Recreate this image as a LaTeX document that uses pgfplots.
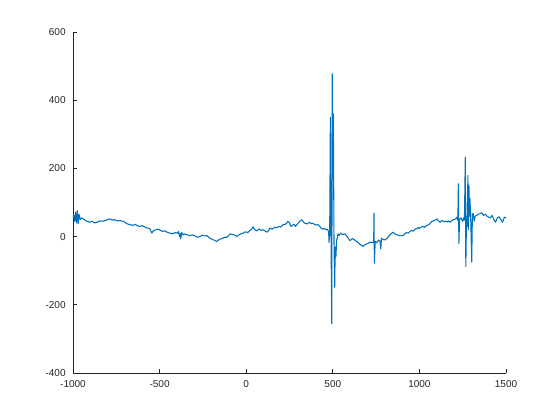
\documentclass[border=0pt]{standalone}
\usepackage{pgfplots}
\pgfplotsset{compat=1.18}
\usepackage{fontspec}
\setmainfont{Liberation Sans}
\definecolor{mblue}{rgb}{0,0.447,0.741}
\definecolor{axgray}{rgb}{0.15,0.15,0.15}
\begin{document}
\begin{tikzpicture}
\useasboundingbox (-54.75pt,-35.25pt) rectangle (365.25pt,279.75pt);
\begin{axis}[
    at={(0,0)}, anchor=south west,
    scale only axis,
    width=324.75pt, height=255.75pt,
    xmin=-1000, xmax=1500,
    ymin=-400, ymax=600,
    axis lines=left,
    axis line style={-, axgray, line width=0.5pt},
    tick style={axgray, line width=0.5pt},
    tick align=inside,
    major tick length=3pt,
    xtick={-1000,-500,...,1500},
    ytick={-400,-200,...,600},
    tick label style={font=\fontsize{7.5}{9}\selectfont, text=axgray},
    /pgf/number format/assume math mode=true,
    /pgf/number format/1000 sep={},
    xticklabel style={yshift=-2pt},
    yticklabel style={xshift=-2pt},
]
\addplot[mblue, line width=0.8pt, line join=round] coordinates {
(-1000,55) (-995,62) (-990,45) (-985,72) (-980,40) (-975,76) (-970,38) (-965,65)
(-958,50) (-950,55) (-942,52) (-930,48) (-920,45) (-902,42) (-890,45) (-875,40)
(-861,42) (-845,46) (-827,45) (-810,48) (-800,50) (-786,52) (-770,48) (-760,50)
(-746,46) (-730,47) (-711,45) (-700,42) (-690,38) (-671,35) (-655,33) (-640,36)
(-630,32) (-615,30) (-600,32) (-585,28) (-573,25) (-560,24) (-555,22) (-545,10)
(-535,18) (-520,20) (-509,22) (-495,18) (-480,15) (-470,17) (-457,13) (-440,10)
(-423,8) (-410,12) (-395,10) (-390,15) (-385,0) (-382,9) (-378,-6) (-372,12)
(-365,5) (-355,8) (-340,5) (-324,3) (-310,5) (-295,2) (-280,-2) (-267,0)
(-255,4) (-240,2) (-226,3) (-210,-5) (-195,-8) (-180,-12) (-169,-14) (-155,-8)
(-140,-6) (-125,-2) (-111,-2) (-100,4) (-94,8) (-76,6) (-65,4) (-53,0)
(-40,6) (-30,8) (-18,10) (-5,14) (10,12) (22,18) (32,22) (39,29)
(50,20) (62,17) (75,22) (85,18) (97,20) (110,16) (120,13) (130,18)
(137,25) (150,22) (165,28) (178,26) (190,30) (200,28) (212,35) (225,36)
(235,40) (241,45) (250,40) (258,30) (264,32) (275,36) (285,30) (293,35)
(305,42) (315,48) (322,49) (335,40) (351,37) (365,42) (375,38) (386,39)
(400,34) (415,35) (428,28) (438,22) (450,24) (460,20) (467,22) (472,18)
(476,15) (478,-17) (482,10) (486,350) (490,-20) (494,-255) (497,477) (500,170)
(503,360) (507,-20) (511,-149) (514,-30) (518,-60) (522,-10) (526,-5) (530,8)
(536,3) (545,10) (556,6) (570,8) (580,2) (590,-5) (599,-12) (608,-8)
(617,-6) (630,-12) (645,-17) (655,-22) (665,-25) (674,-29) (685,-24) (695,-22)
(703,-20) (715,-16) (725,-18) (732,-17) (736,-12) (738,69) (740,-78) (745,-14)
(755,-18) (765,-10) (772,-12) (777,-36) (781,-5) (790,-8) (800,-10) (813,-6)
(825,2) (835,8) (848,13) (858,8) (870,5) (888,3) (905,3) (915,8)
(925,12) (935,10) (946,15) (955,18) (965,16) (975,22) (986,23) (992,27)
(1000,24) (1010,28) (1020,30) (1030,27) (1040,32) (1050,34) (1061,38) (1070,44)
(1080,46) (1090,48) (1102,52) (1110,46) (1120,42) (1130,47) (1140,44) (1150,45)
(1160,43) (1170,46) (1177,42) (1190,48) (1200,50) (1210,52) (1217,57) (1222,48)
(1225,155) (1228,-21) (1232,50) (1240,55) (1250,45) (1255,55) (1260,48) (1265,233)
(1268,-88) (1272,60) (1276,30) (1280,179) (1283,20) (1286,150) (1290,60) (1292,111)
(1297,40) (1302,-75) (1306,67) (1311,67) (1316,45) (1322,60) (1330,62) (1340,66)
(1350,67) (1360,70) (1370,62) (1380,66) (1390,60) (1400,57) (1410,55) (1420,62)
(1430,50) (1440,42) (1450,55) (1460,58) (1470,50) (1480,42) (1490,57) (1500,55)
};
\end{axis}
\end{tikzpicture}
\end{document}
